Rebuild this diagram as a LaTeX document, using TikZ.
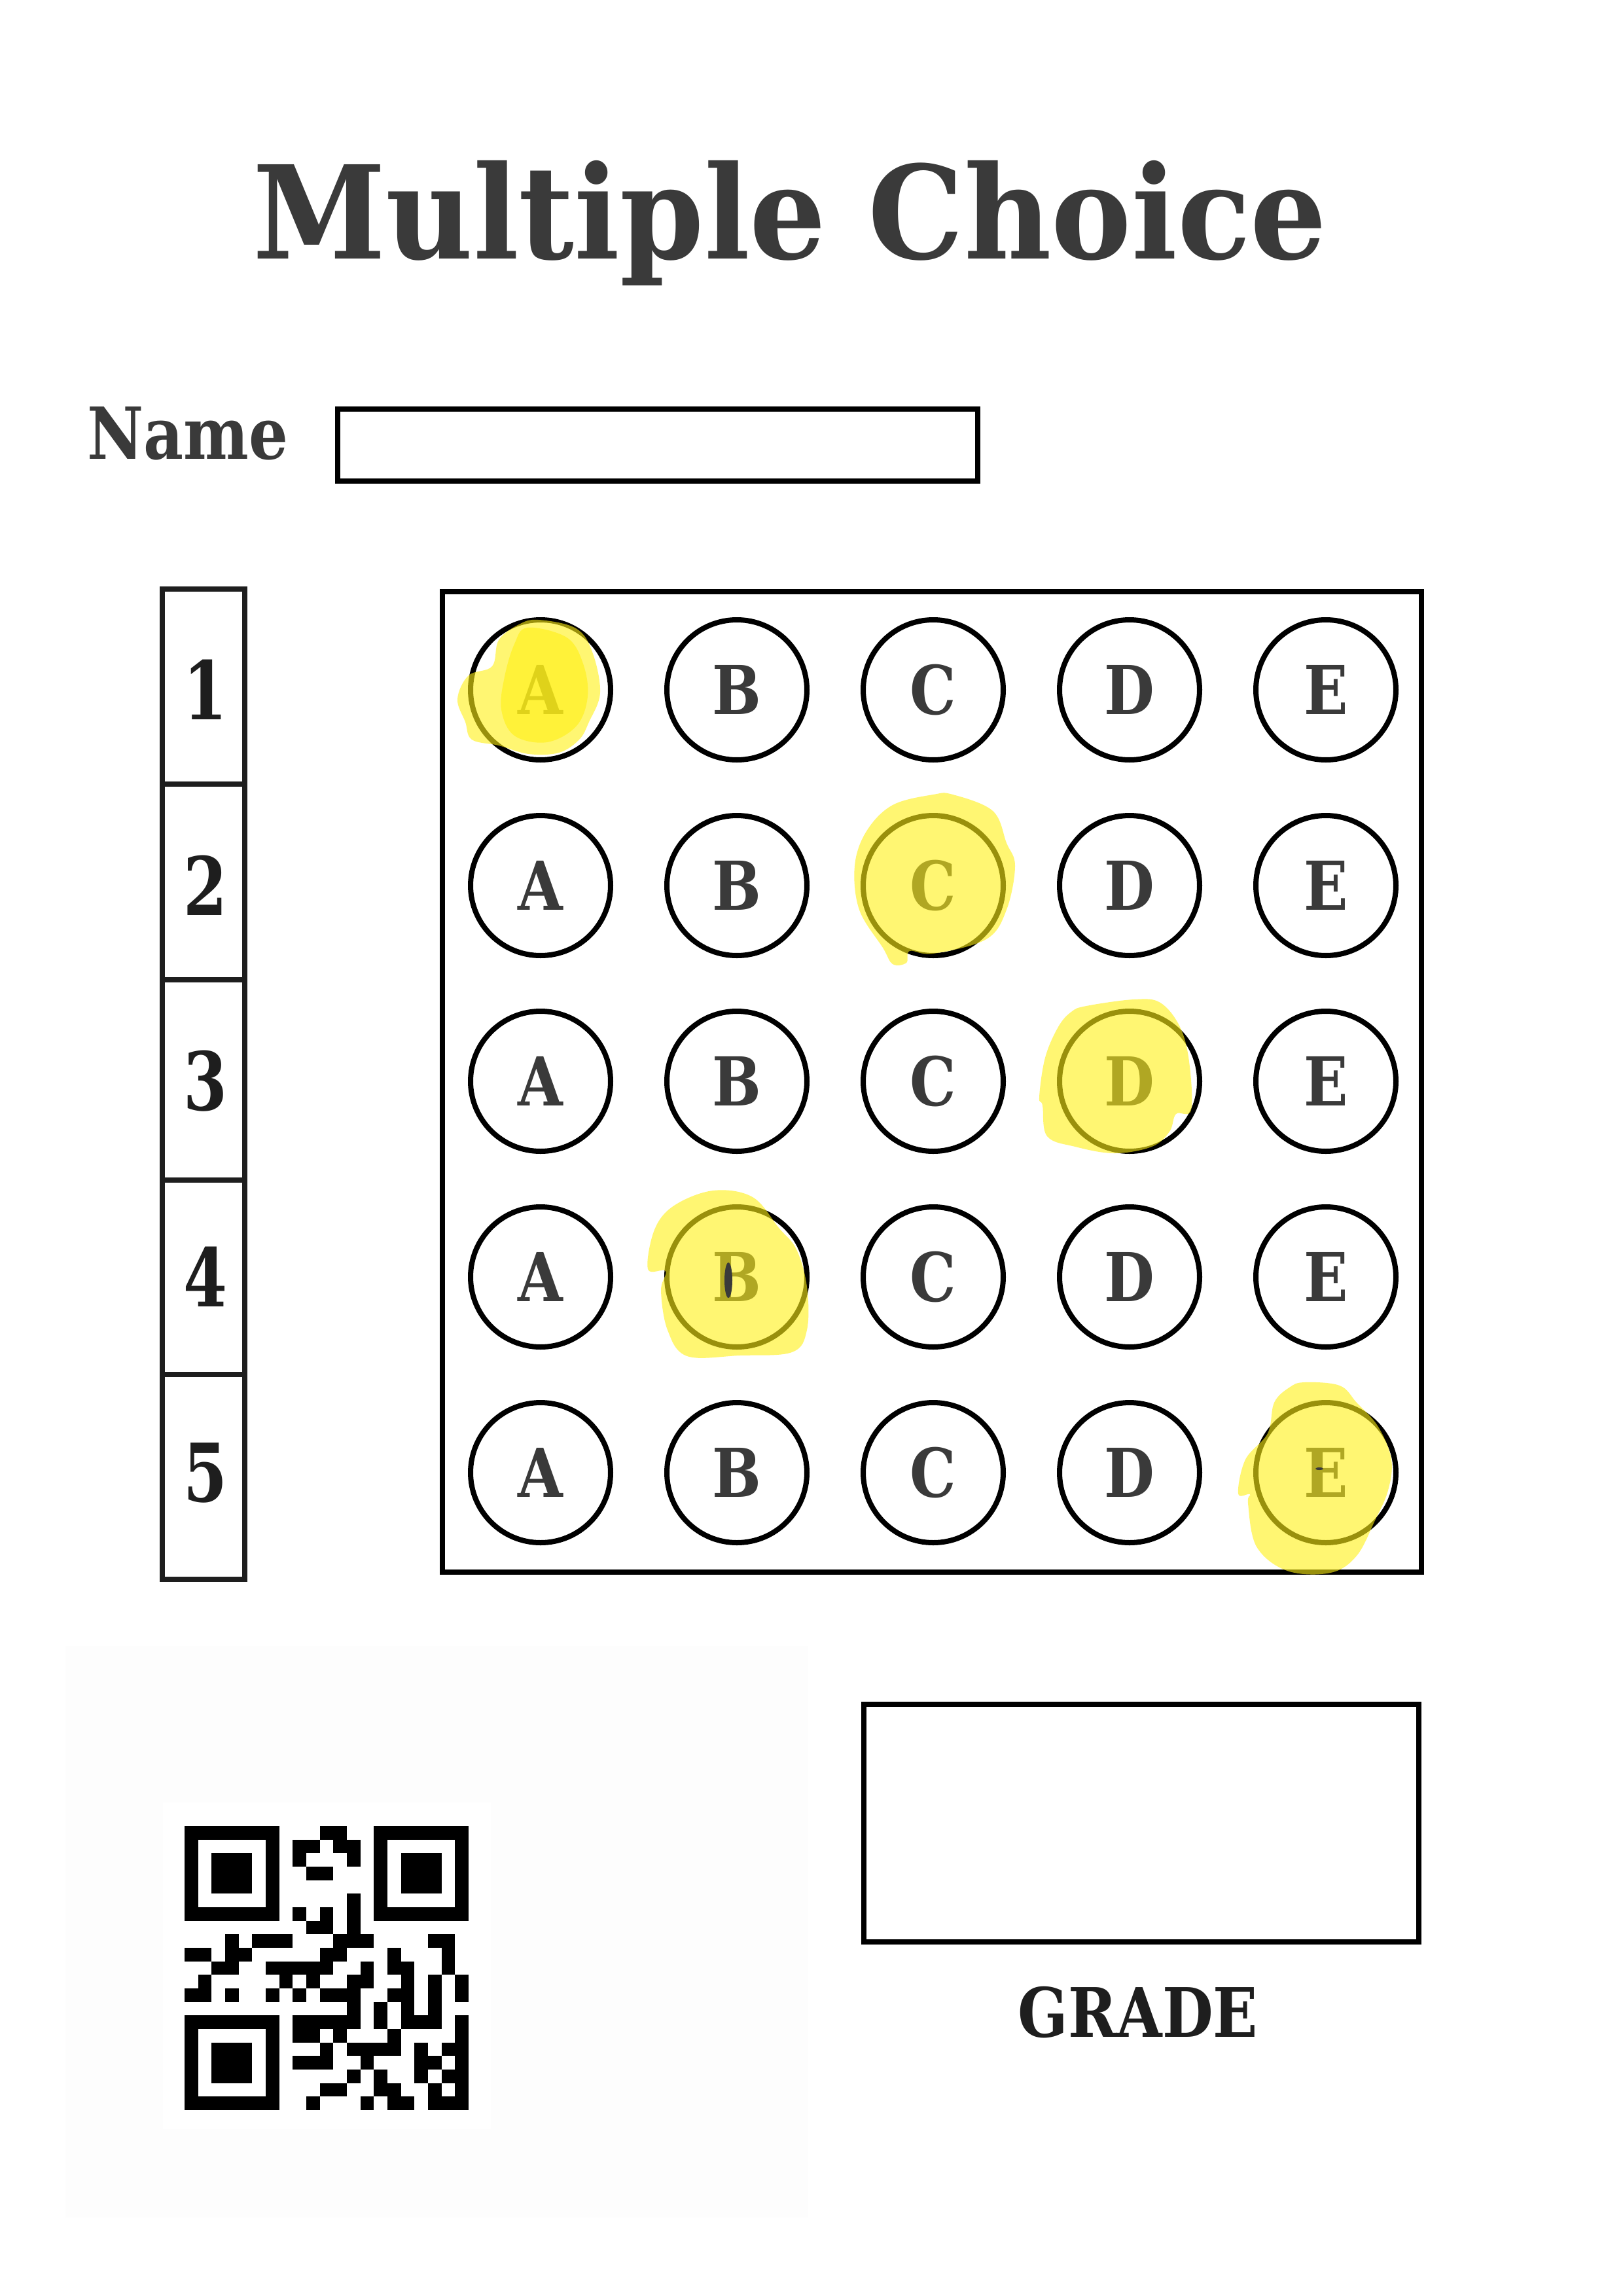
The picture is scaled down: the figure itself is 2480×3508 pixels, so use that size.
\documentclass[tikz,border=0pt]{standalone}
\usepackage{fontspec}
\setmainfont{DejaVu Serif}
\newfontfamily\titlefont[FakeStretch=0.93]{DejaVu Serif}
\newfontfamily\labelfont[FakeStretch=0.86]{DejaVu Serif}
\newfontfamily\digitfont[FakeStretch=0.78]{DejaVu Serif}
\definecolor{ink}{HTML}{3A3A3A}
\definecolor{darkink}{HTML}{1E1E1E}
\definecolor{marker}{RGB}{255,240,20}
\definecolor{paper}{HTML}{FDFDFD}

\begin{document}
\begin{tikzpicture}[x=0.2409pt,y=-0.2409pt,
  frame/.style={draw=black,line width=1.93pt},
  bubble/.style={circle,draw=black,line width=1.93pt,minimum size=51.55pt,inner sep=0pt,
    font=\labelfont\bfseries\fontsize{24.8}{24.8}\selectfont,text=ink},
  cellno/.style={font=\digitfont\bfseries\fontsize{29.7}{29.7}\selectfont,text=darkink},
  highlight/.style={fill=marker,fill opacity=0.6}]
\fill[white] (0,0) rectangle (2480,3508);
\useasboundingbox (0,0) rectangle (2480,3508);
\node[anchor=base,text=ink,font=\titlefont\bfseries\fontsize{47.6}{47.6}\selectfont] (title) at (1207,395) {Multiple Choice};
\node[anchor=base west,text=ink,font=\labelfont\bfseries\fontsize{26.4}{26.4}\selectfont] (namelabel) at (119,701) {Name};
\draw[frame] (516,625) rectangle (1494,735);
\draw[frame,draw=darkink] (248,900) rectangle (374,2413);
\foreach \yy in {1198,1497,1803,2100}
  \draw[draw=darkink,line width=1.7pt] (248,\yy) -- (374,\yy);
\foreach \n/\yy in {1/1054,2/1353,3/1652,4/1951,5/2250}
  \node[cellno] (no\n) at (314,\yy) {\n};
\draw[frame] (676,904) rectangle (2172,2402);
\foreach \row/\yy in {1/1054,2/1353,3/1652,4/1951,5/2250}
  \foreach \col/\xx in {A/826,B/1126,C/1426,D/1726,E/2026}
    \node[bubble] (q\row\col) at (\xx,\yy) {\col};
\fill[highlight,shift={(q1A)}] plot[smooth cycle,tension=0.6] coordinates {(-3,-107) (54,-94) (79,-58) (91,4) (74,49) (59,76) (28,96) (-18,98) (-64,85) (-105,76) (-115,49) (-127,14) (-110,-22) (-74,-36) (-64,-76) (-33,-100)};
\fill[highlight,shift={(q1A)}] plot[smooth cycle,tension=0.6] coordinates {(-20,-95) (40,-80) (65,-40) (72,10) (55,55) (10,80) (-40,70) (-60,30) (-55,-20) (-40,-70)};
\fill[highlight,shift={(q2C)}] plot[smooth cycle,tension=0.6] coordinates {(30,-139) (91,-114) (112,-65) (125,-30) (112,37) (81,82) (0,104) (-36,100) (-41,118) (-62,120) (-77,95) (-113,37) (-120,-30) (-102,-83) (-62,-123) (0,-139)};
\fill[highlight,shift={(q3D)}] plot[smooth cycle,tension=0.6] coordinates {(-66,-115) (7,-125) (47,-120) (77,-83) (91,-30) (94,44) (71,50) (61,77) (34,100) (-23,110) (-83,100) (-126,84) (-133,37) (-138,24) (-129,-36) (-109,-83) (-89,-106)};
\fill[highlight,shift={(q4B)}] plot[smooth cycle,tension=0.6] coordinates {(-36,-132) (24,-122) (64,-75) (91,-42) (107,15) (107,81) (84,115) (4,120) (-76,121) (-106,81) (-116,21) (-109,-9) (-136,-12) (-126,-72) (-96,-109)};
\fill[ink,shift={(q4B)}] (-13,5) ellipse [x radius=6,y radius=27];
\fill[highlight,shift={(q5E)}] plot[smooth cycle,tension=0.6] coordinates {(-33,-138) (21,-133) (47,-107) (80,-70) (100,-20) (95,27) (75,73) (47,127) (7,153) (-59,150) (-106,113) (-119,47) (-116,33) (-134,32) (-123,-20) (-89,-60) (-79,-107) (-56,-130)};
\fill[ink,shift={(q5E)}] (-10,-6) ellipse [x radius=6,y radius=2];
\fill[paper] (100,2515) rectangle (1235,3388);
\fill[white] (249,2754) rectangle (750,3253);
\begin{scope}[shift={(282,2790)},scale=20.67]
\foreach \fx/\fy in {0/0,14/0,0/14} {
  \fill (\fx,\fy) rectangle ++(7,7);
  \fill[white] (\fx+1,\fy+1) rectangle ++(5,5);
  \fill (\fx+2,\fy+2) rectangle ++(3,3);
}
\foreach \r/\c/\n in {0/10/2, 1/8/2, 1/11/2, 2/8/1, 2/12/1, 3/9/2, 5/12/1, 6/8/1, 6/10/1, 6/12/1,
  7/9/2, 7/12/1, 8/3/1, 8/5/3, 8/11/3, 8/18/2, 9/0/2, 9/3/2, 9/10/2, 9/15/1, 9/19/1,
  10/2/2, 10/6/5, 10/13/1, 10/15/2, 10/19/1, 11/1/1, 11/7/1, 11/9/1, 11/12/2, 11/16/1, 11/18/1, 11/20/1,
  12/0/2, 12/3/1, 12/6/1, 12/8/1, 12/10/3, 12/15/2, 12/18/1, 12/20/1, 13/12/1, 13/14/1, 13/16/1, 13/18/1,
  14/8/5, 14/14/1, 14/16/3, 14/20/1, 15/8/2, 15/11/1, 15/15/1, 15/20/1, 16/10/1, 16/12/4, 16/17/1, 16/19/2,
  17/8/3, 17/13/1, 17/17/2, 17/20/1, 18/12/1, 18/14/1, 18/17/1, 18/19/2, 19/10/2, 19/14/2, 19/18/1, 19/20/1,
  20/9/1, 20/13/1, 20/15/2, 20/18/3}
  \fill (\c,\r) rectangle ++(\n,1);
\end{scope}
\draw[frame] (1320,2604) rectangle (2168,2967);
\node[anchor=base,text=darkink,font=\labelfont\bfseries\fontsize{25.1}{25.1}\selectfont] (grade) at (1739,3112) {GRADE};
\end{tikzpicture}
\end{document}
